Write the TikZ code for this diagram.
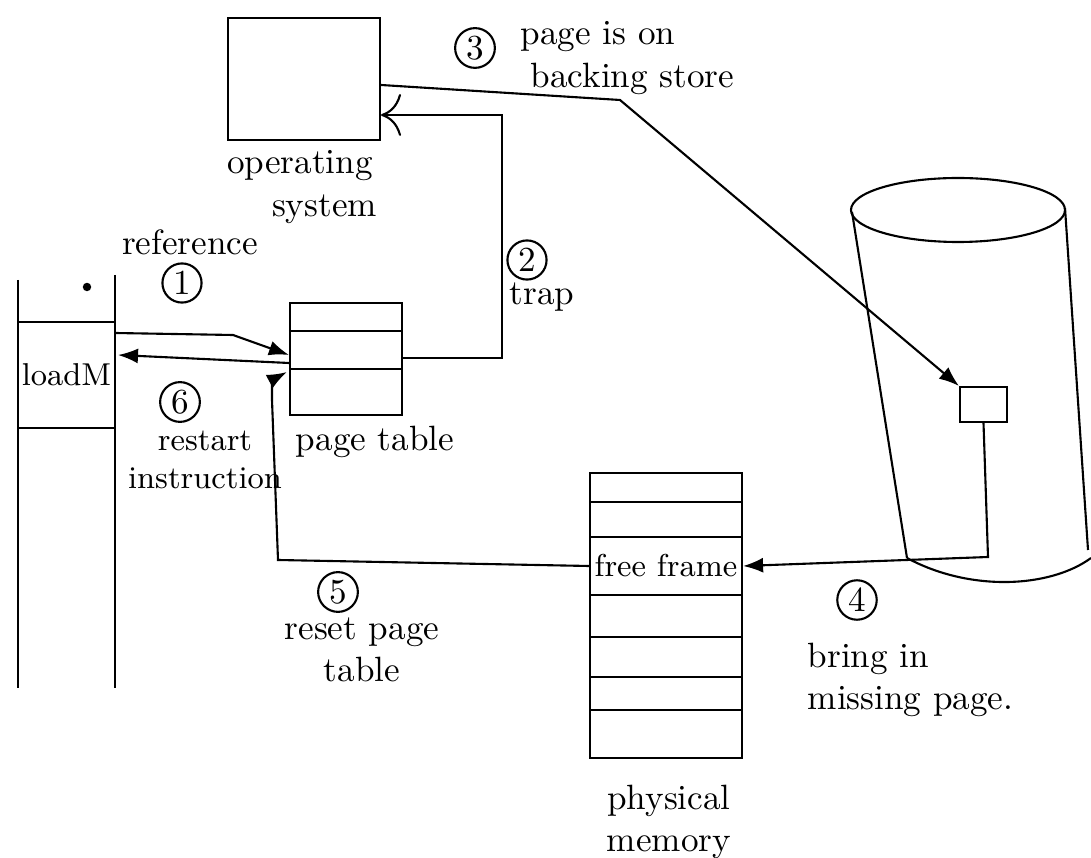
\documentclass[tikz,border=0pt]{standalone}
\usepackage{amsmath}
\usetikzlibrary{arrows.meta,calc,positioning}

\begin{document}
\begin{tikzpicture}[semithick,
  num/.style={circle,draw,inner sep=1pt},
  arr/.style={-{Latex[length=2mm]}}]
  \useasboundingbox (0,0) rectangle (10.91,-8.58);
  % operating system
  \node[draw,minimum width=1.52cm,minimum height=1.22cm] (os) at (3.04,-0.79) {};
  \node[align=left] (osl) at (3.02,-1.87) {operating\\\hspace{0.45cm}system};
  % process memory with loadM
  \draw (0.18,-2.80) -- (0.18,-6.88);
  \draw (1.15,-2.75) -- (1.15,-6.88);
  \node[font=\small,inner sep=0pt,outer sep=0pt,minimum width=0.97cm,minimum height=1.06cm] (ld) at (0.665,-3.75) {loadM};
  \draw (ld.north west) -- (ld.north east);
  \draw (ld.south west) -- (ld.south east);
  \fill (0.87,-2.87) circle (1.2pt);
  % page table
  \node[draw,minimum width=1.12cm,minimum height=1.12cm] (pt) at (3.46,-3.59) {};
  \foreach \d in {0.29,0.67}
    \draw ($(pt.north west)+(0,-\d)$) -- ($(pt.north east)+(0,-\d)$);
  \node (ptl) at (3.75,-4.42) {page table};
  % backing store
  \draw (9.58,-2.10) ellipse (1.07 and 0.32);
  \draw (8.52,-2.12) -- (9.07,-5.58);
  \draw (10.65,-2.08) -- (10.88,-5.50);
  \draw (9.07,-5.58) .. controls (9.7,-5.92) and (10.5,-5.88) .. (10.91,-5.58);
  \node[draw,minimum width=0.47cm,minimum height=0.35cm] (blk) at (9.835,-4.045) {};
  % physical memory
  \draw (5.90,-4.73) rectangle (7.42,-7.58);
  \foreach \y in {5.02,6.37,6.77,7.10}
    \draw (5.90,-\y) -- (7.42,-\y);
  \node[draw,font=\small,inner sep=1pt,minimum width=1.52cm,minimum height=0.58cm] (free) at (6.66,-5.66) {free frame};
  \node[align=center] (pml) at (6.69,-8.22) {physical\\memory};
  % steps
  \draw[arr] ($(ld.east)+(0,0.42)$) -- (2.33,-3.35) -- ($(pt.west)+(0,0.04)$);
  \draw[arr] ($(pt.west)+(0,-0.04)$) -- ($(ld.east)+(0.03,0.20)$);
  \draw[-{To[length=2mm]}] ($(pt.east)+(0,0.01)$) -- ++(0.99,0) |- ($(os.east)+(0,-0.36)$);
  \draw[arr] ($(os.east)+(0,-0.06)$) -- (6.20,-1.00) -- (blk.north west);
  \draw[arr] (blk.south) -- (9.88,-5.57) -- (free.east);
  \draw[arr] (free.west) -- (2.78,-5.60) -- (2.72,-4.00)
    .. controls (2.72,-3.80) .. ($(pt.west)+(-0.02,-0.13)$);
  \node (rl) at (1.90,-2.42) {reference};
  \node[num] (n1) at (1.82,-2.83) {1};
  \node[num] (n2) at (5.27,-2.60) {2};
  \node (tl) at (5.42,-2.97) {trap};
  \node[num] (n3) at (4.75,-0.48) {3};
  \node[align=left,anchor=west] (bsl) at (5.08,-0.58) {page is on\\\hspace{0.1cm}backing store};
  \node[num] (n4) at (8.57,-6.00) {4};
  \node[align=left,anchor=west] (bml) at (7.95,-6.80) {bring in\\missing page.};
  \node[num] (n5) at (3.38,-5.92) {5};
  \node[align=center] (rpl) at (3.62,-6.50) {reset page\\table};
  \node[num] (n6) at (1.80,-4.02) {6};
  \node[align=center,font=\small] (ril) at (2.05,-4.60) {restart\\instruction};
\end{tikzpicture}
\end{document}
